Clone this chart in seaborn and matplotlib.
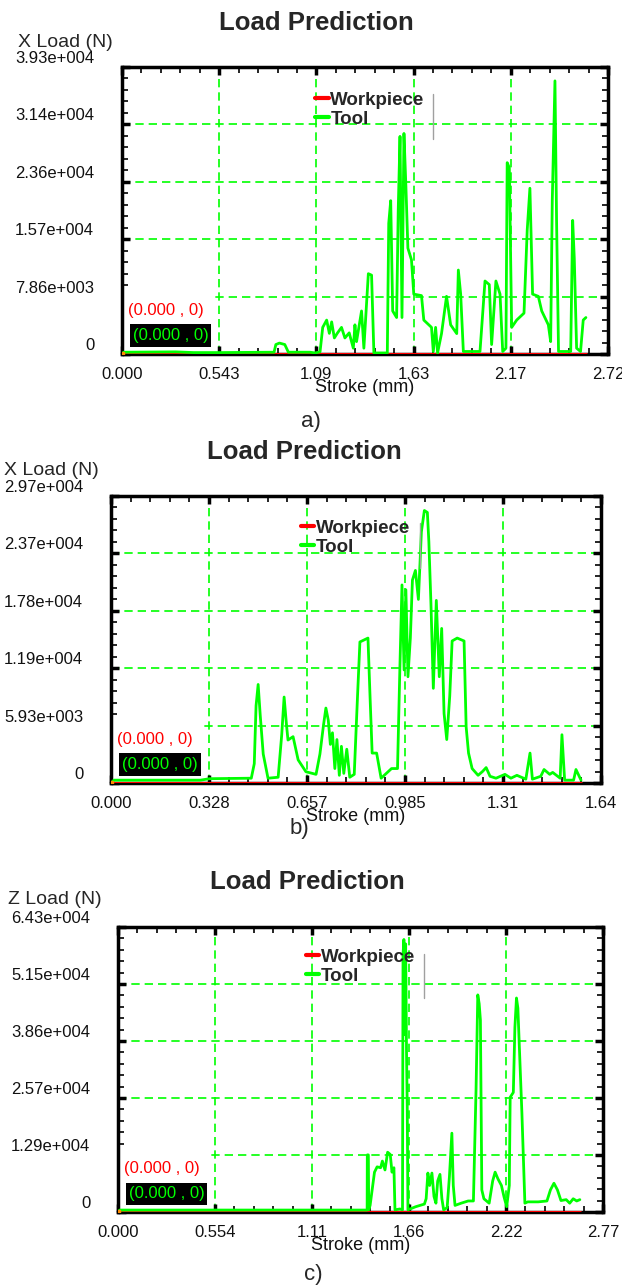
import matplotlib
matplotlib.use("Agg")
import matplotlib.pyplot as plt
from matplotlib.ticker import AutoMinorLocator
from matplotlib.transforms import ScaledTranslation
from matplotlib.lines import Line2D
from matplotlib.patches import Rectangle
import seaborn as sns

sns.set_style("white")
plt.rcParams['font.family'] = ['Liberation Sans', 'DejaVu Sans']

GREEN = '#00ff00'
RED = '#ff0000'

# ---- panel a: X load ----
stroke_a = [0.000, 0.010, 0.300, 0.400, 0.550, 0.850, 0.860, 0.880, 0.910, 0.930,
            1.050, 1.080, 1.107, 1.122, 1.144, 1.159, 1.172, 1.187, 1.203, 1.227,
            1.246, 1.270, 1.293, 1.302, 1.311, 1.324, 1.339, 1.352, 1.377, 1.395,
            1.408, 1.483, 1.491, 1.502, 1.513, 1.535, 1.544, 1.554, 1.565, 1.576,
            1.587, 1.598, 1.618, 1.631, 1.674, 1.687, 1.730, 1.740, 1.753, 1.764,
            1.786, 1.814, 1.837, 1.871, 1.880, 1.893, 1.908, 2.001, 2.029, 2.053,
            2.066, 2.090, 2.113, 2.128, 2.146, 2.153, 2.165, 2.178, 2.206, 2.247,
            2.265, 2.280, 2.295, 2.327, 2.346, 2.383, 2.396, 2.405, 2.420, 2.429,
            2.440, 2.508, 2.519, 2.528, 2.541, 2.563, 2.578, 2.593]
tool_a = [0, 250, 300, 200, 200, 250, 1300, 1500, 1300, 250,
          250, 150, 300, 3650, 4650, 2830, 4400, 2200, 2830, 3650,
          2200, 2900, 800, 4000, 1700, 3650, 5900, 800, 11000, 10800,
          150, 150, 17900, 21000, 5900, 5000, 19700, 29800, 5000, 30200,
          22900, 14500, 12900, 8200, 8000, 4650, 3650, 350, 3650, 150,
          2800, 7900, 4000, 2800, 11500, 8200, 350, 350, 10000, 9500,
          1300, 10000, 8200, 350, 800, 26200, 25500, 3650, 4650, 5600,
          17000, 22700, 8200, 7900, 5900, 4000, 1700, 21000, 37400, 18300,
          350, 350, 18300, 13100, 800, 350, 4650, 5000]
xticks_a = [0.0, 0.5433, 1.0866, 1.6299, 2.1732, 2.7165]
xlabels_a = ['0.000', '0.543', '1.09', '1.63', '2.17', '2.72']
yticks_a = [0, 7860, 15720, 23580, 31440, 39300]
ylabels_a = ['0', '7.86e+003', '1.57e+004', '2.36e+004', '3.14e+004', '3.93e+004']

# ---- panel b: X load ----
stroke_b = [0.000, 0.010, 0.300, 0.330, 0.470, 0.480, 0.486, 0.493, 0.500, 0.510,
            0.526, 0.560, 0.572, 0.580, 0.588, 0.593, 0.610, 0.627, 0.653, 0.687,
            0.700, 0.712, 0.720, 0.728, 0.735, 0.742, 0.750, 0.757, 0.765, 0.772,
            0.780, 0.790, 0.800, 0.815, 0.826, 0.834, 0.861, 0.868, 0.875, 0.890,
            0.905, 0.940, 0.960, 0.968, 0.975, 0.982, 0.988, 0.995, 1.003, 1.010,
            1.020, 1.030, 1.040, 1.050, 1.060, 1.065, 1.072, 1.080, 1.090, 1.100,
            1.108, 1.116, 1.125, 1.135, 1.143, 1.160, 1.183, 1.190, 1.198, 1.210,
            1.230, 1.245, 1.257, 1.270, 1.290, 1.320, 1.340, 1.360, 1.390, 1.404,
            1.412, 1.440, 1.451, 1.470, 1.480, 1.505, 1.511, 1.520, 1.550, 1.558,
            1.575]
tool_b = [0, 300, 300, 450, 500, 2000, 8000, 10200, 7000, 3000,
          500, 600, 5000, 8900, 6000, 4450, 4800, 2400, 1170, 900,
          3000, 6000, 7760, 6500, 4000, 5200, 1500, 4500, 800, 3800,
          1000, 3500, 600, 900, 9000, 14600, 15000, 8900, 3100, 3100,
          500, 1500, 1500, 12000, 20500, 11700, 20000, 11000, 15000, 21000,
          22000, 19000, 26000, 28200, 28000, 25000, 18600, 9800, 18900, 11000,
          16000, 7200, 4500, 9000, 14700, 15000, 14700, 5800, 3100, 1500,
          800, 1200, 1600, 700, 500, 900, 500, 800, 400, 3100,
          400, 700, 1400, 900, 1100, 500, 5000, 300, 300, 1400,
          300]
xticks_b = [0.0, 0.3284, 0.6568, 0.9852, 1.3136, 1.642]
xlabels_b = ['0.000', '0.328', '0.657', '0.985', '1.31', '1.64']
yticks_b = [0, 5940, 11880, 17820, 23760, 29700]
ylabels_b = ['0', '5.93e+003', '1.19e+004', '1.78e+004', '2.37e+004', '2.97e+004']

# ---- panel c: Z load ----
stroke_c = [0.000, 0.010, 1.400, 1.423, 1.424, 1.430, 1.432, 1.440, 1.455, 1.465,
            1.480, 1.500, 1.510, 1.525, 1.540, 1.555, 1.565, 1.576, 1.582, 1.610,
            1.625, 1.628, 1.633, 1.638, 1.643, 1.648, 1.652, 1.656, 1.700, 1.750,
            1.760, 1.770, 1.780, 1.793, 1.805, 1.816, 1.826, 1.839, 1.850, 1.860,
            1.880, 1.893, 1.907, 1.915, 1.925, 1.960, 2.000, 2.030, 2.045, 2.055,
            2.063, 2.070, 2.078, 2.090, 2.120, 2.140, 2.154, 2.170, 2.190, 2.205,
            2.220, 2.235, 2.240, 2.258, 2.267, 2.276, 2.284, 2.296, 2.307, 2.324,
            2.340, 2.400, 2.450, 2.470, 2.490, 2.510, 2.530, 2.560, 2.580, 2.600,
            2.620, 2.638]
tool_c = [0, 450, 450, 450, 12900, 12900, 500, 1500, 6000, 9000,
          10200, 10000, 11500, 9500, 13500, 13000, 9000, 10000, 500, 700,
          500, 58000, 61500, 40000, 60500, 36000, 24000, 500, 1200, 1800,
          3000, 8800, 6000, 8800, 3500, 2000, 7000, 8500, 3000, 500,
          1000, 8000, 17800, 6000, 1500, 2000, 2500, 2500, 27500, 49000,
          47000, 43300, 5000, 3000, 2000, 7000, 9000, 7500, 6000, 3400,
          1200, 6000, 25900, 27000, 41700, 48300, 46000, 33600, 22300, 2000,
          2300, 2300, 2500, 5000, 6500, 5000, 2600, 2800, 2000, 3000,
          2500, 2800]
xticks_c = [0.0, 0.554, 1.108, 1.662, 2.216, 2.77]
xlabels_c = ['0.000', '0.554', '1.11', '1.66', '2.22', '2.77']
yticks_c = [0, 12860, 25720, 38580, 51440, 64300]
ylabels_c = ['0', '1.29e+004', '2.57e+004', '3.86e+004', '5.15e+004', '6.43e+004']

fig = plt.figure(figsize=(6.22, 12.86), dpi=100)
fig.patch.set_facecolor('white')


def draw_panel(rect, stroke, tool, xticks, xlabels, yticks, ylabels,
               ylab, caption, title_xy, ylab_xy, cap_xy, leg_xy, sep_x):
    ax = fig.add_axes(rect)
    ax.set_facecolor('white')
    # workpiece load stays at zero, tool load on top
    sns.lineplot(x=[stroke[0], stroke[-1]], y=[0, 0], ax=ax, color=RED, lw=2.2,
                 estimator=None, sort=False, zorder=3)
    sns.lineplot(x=stroke, y=tool, ax=ax, color=GREEN, lw=2.0,
                 estimator=None, sort=False, zorder=4)
    ax.plot([0], [0], 's', color='#ff8c00', ms=3, zorder=5)

    ax.set_xlim(xticks[0], xticks[-1])
    ax.set_ylim(yticks[0], yticks[-1])
    ax.set_xticks(xticks, xlabels)
    ax.set_yticks(yticks, ylabels)
    ax.xaxis.set_minor_locator(AutoMinorLocator(5))
    ax.yaxis.set_minor_locator(AutoMinorLocator(5))
    ax.tick_params(which='both', direction='in', top=True, right=True,
                   bottom=True, left=True, color='black')
    ax.tick_params(which='major', length=6, width=2.5, labelsize=12,
                   labelcolor='#111111')
    ax.tick_params(axis='y', which='major', pad=20)
    ax.tick_params(axis='x', which='major', pad=9)
    ax.tick_params(which='minor', length=4, width=1.2)
    for sp in ax.spines.values():
        sp.set_color('black')
        sp.set_linewidth(2.5)
    ax.grid(True, which='major', color=GREEN, lw=1.2, ls=(0, (5, 3)))
    ax.set_axisbelow(True)
    # y labels sit a little above their level
    off = ScaledTranslation(0, 0.1, fig.dpi_scale_trans)
    for lab in ax.yaxis.get_majorticklabels():
        lab.set_transform(lab.get_transform() + off)

    ax.set_xlabel('Stroke (mm)', fontsize=13, labelpad=-2, color='#111111')
    ax.set_ylabel('')

    # white area behind the readout labels (hides grid)
    ax.add_patch(Rectangle((0, 0), 0.185, 0.215, transform=ax.transAxes,
                           facecolor='white', edgecolor='none', zorder=1))
    ax.text(0.012, 0.153, '(0.000 , 0)', transform=ax.transAxes, color=RED,
            fontsize=12, va='center', ha='left', zorder=6)
    ax.add_patch(Rectangle((0.017, 0.026), 0.167, 0.077, transform=ax.transAxes,
                           facecolor='black', edgecolor='none', zorder=6))
    ax.text(0.1, 0.064, '(0.000 , 0)', transform=ax.transAxes, color=GREEN,
            fontsize=12, va='center', ha='center', zorder=7)

    handles = [Line2D([], [], color=RED, lw=3), Line2D([], [], color=GREEN, lw=3)]
    ax.legend(handles, ['Workpiece', 'Tool'], loc='upper left',
              bbox_to_anchor=leg_xy, frameon=False, handlelength=0.7,
              handletextpad=0.1, labelspacing=0.1, borderpad=0,
              borderaxespad=0, prop={'weight': 'bold', 'size': 13.5})
    ax.plot([sep_x, sep_x], [0.75, 0.905], transform=ax.transAxes,
            color='#a0a0a0', lw=1, zorder=6)

    fig.text(title_xy[0], title_xy[1], 'Load Prediction', ha='center',
             va='center', fontsize=18.5, fontweight='bold')
    fig.text(ylab_xy[0], ylab_xy[1], ylab, ha='left', va='center', fontsize=14)
    fig.text(cap_xy[0], cap_xy[1], caption, ha='center', va='center', fontsize=16)
    return ax


draw_panel([0.1961, 0.7247, 0.7814, 0.2232], stroke_a, tool_a, xticks_a, xlabels_a,
           yticks_a, ylabels_a, 'X Load (N)', 'a)', (0.508, 0.9821),
           (0.029, 0.9666), (0.500, 0.6726), (0.398, 0.915), 0.640)
draw_panel([0.1785, 0.3911, 0.7878, 0.2232], stroke_b, tool_b, xticks_b, xlabels_b,
           yticks_b, ylabels_b, 'X Load (N)', 'b)', (0.489, 0.6485),
           (0.006, 0.6345), (0.482, 0.3555), (0.387, 0.918), 0.631)
draw_panel([0.1897, 0.0575, 0.7797, 0.2216], stroke_c, tool_c, xticks_c, xlabels_c,
           yticks_c, ylabels_c, 'Z Load (N)', 'c)', (0.494, 0.3142),
           (0.013, 0.3002), (0.503, 0.0093), (0.387, 0.924), 0.631)

fig.savefig('out.png', dpi=100, facecolor='white')
